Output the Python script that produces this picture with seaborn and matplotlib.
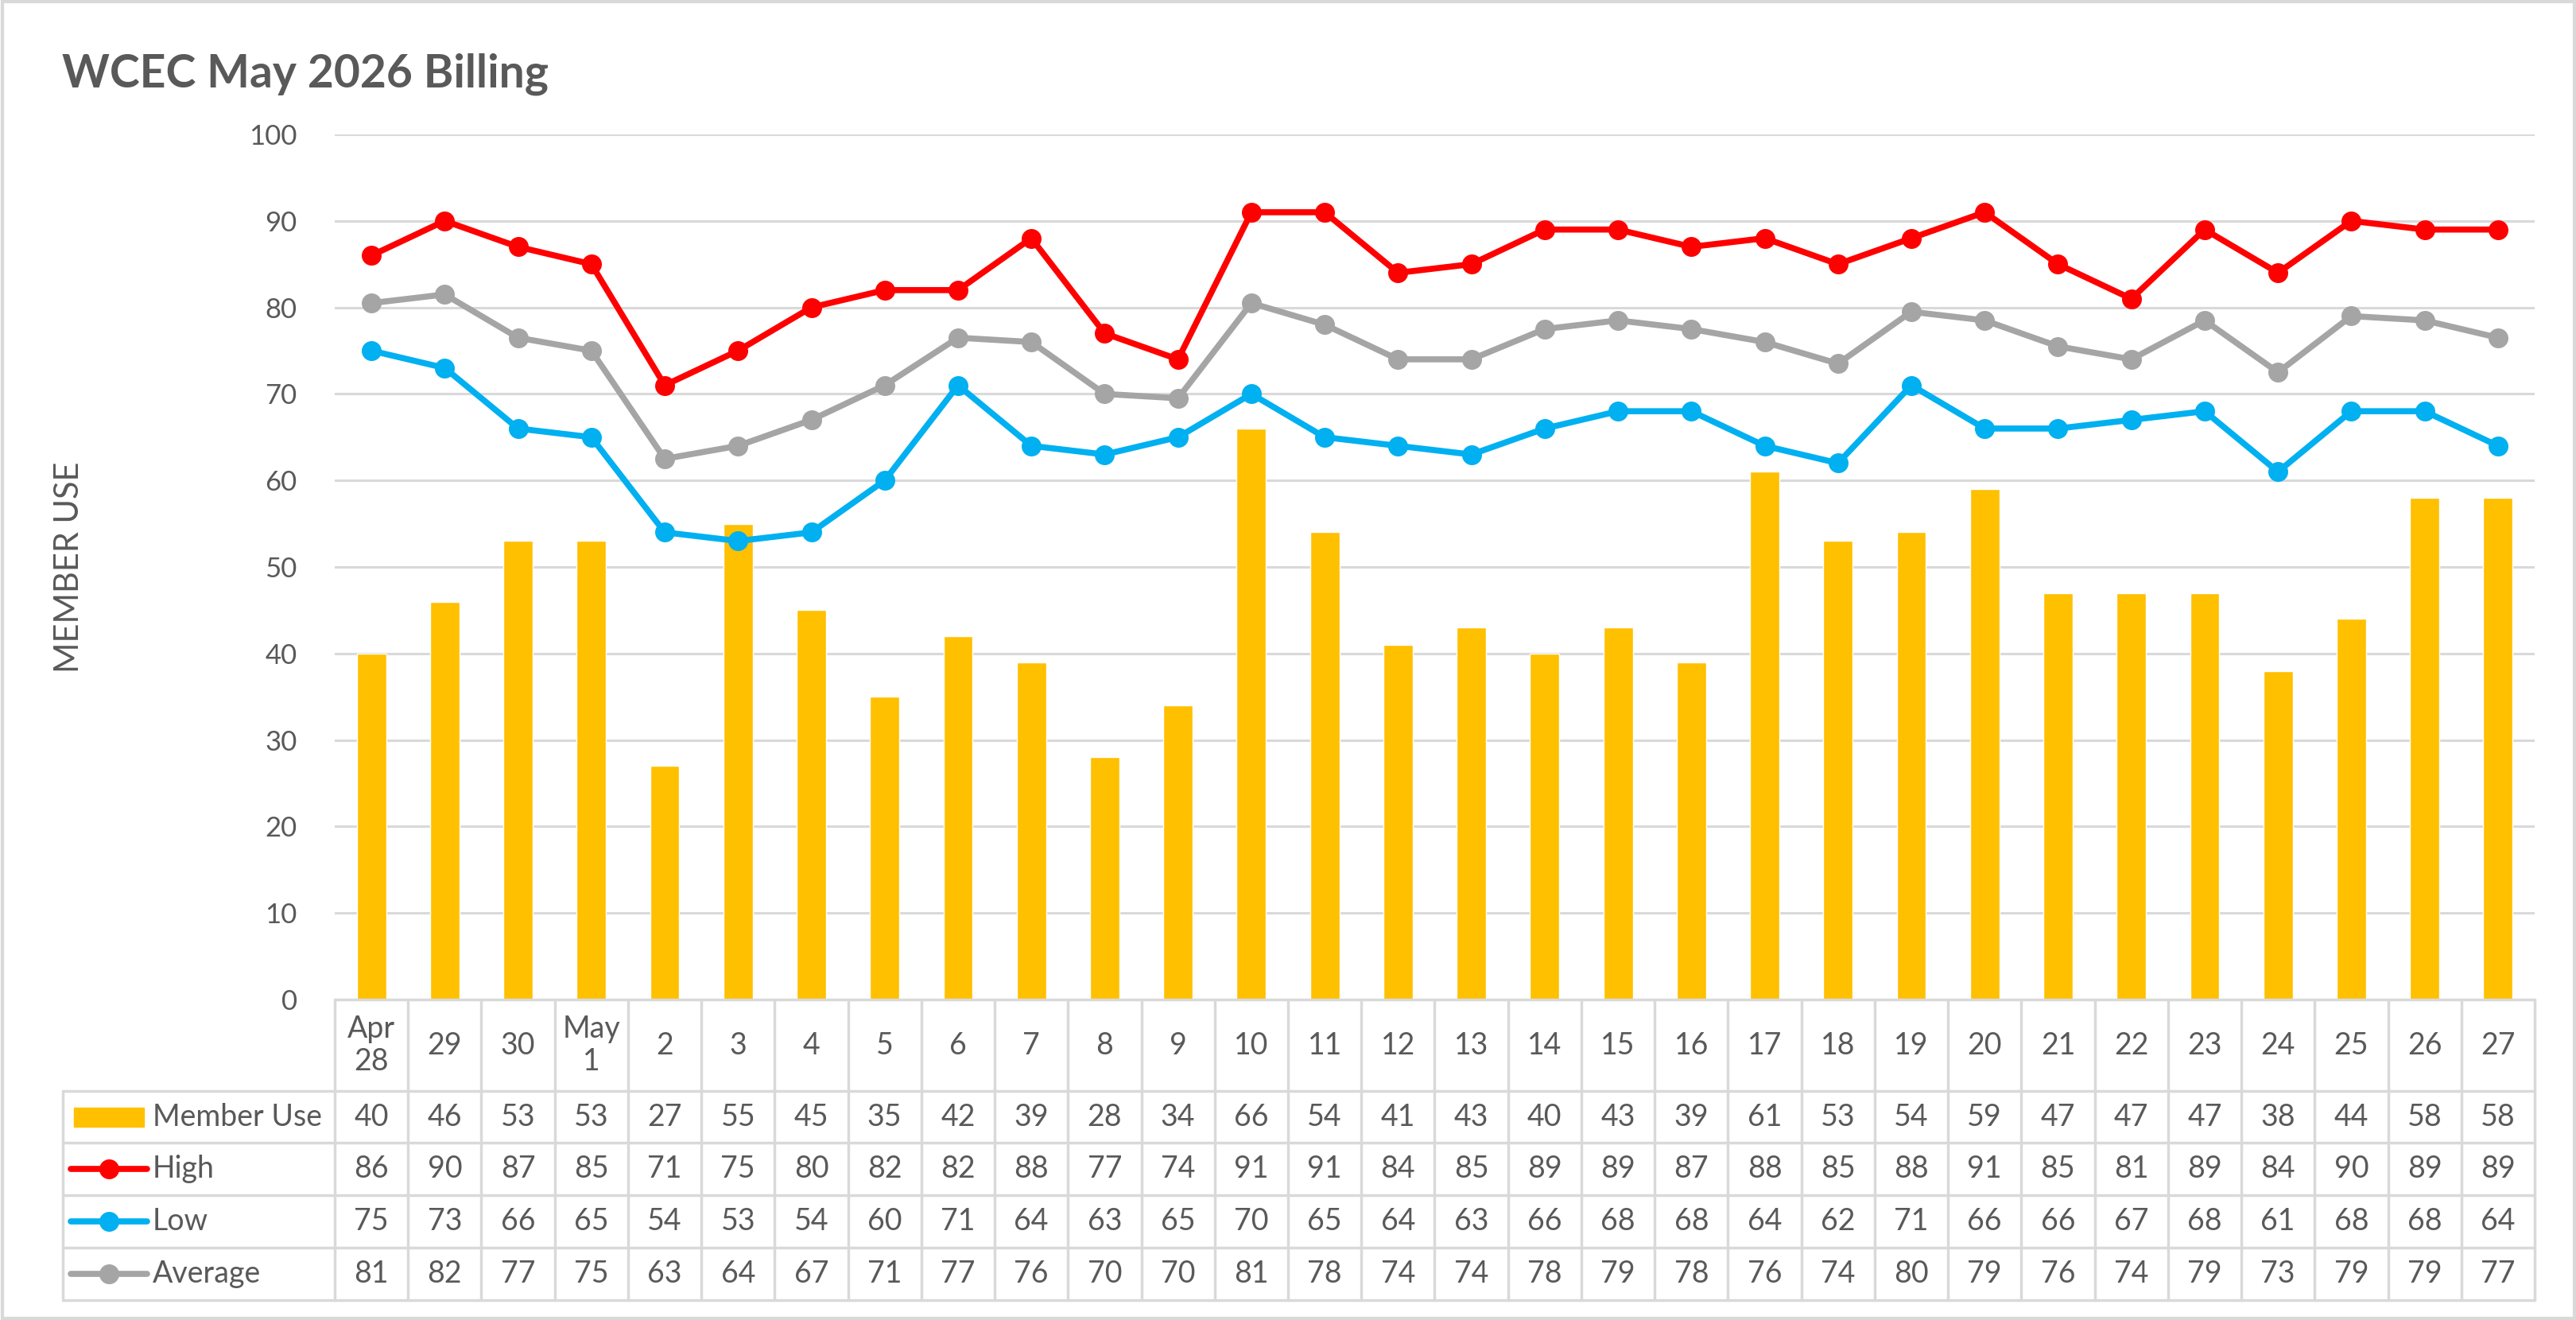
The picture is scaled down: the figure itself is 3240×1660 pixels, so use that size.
import matplotlib
matplotlib.use("Agg")
import matplotlib.pyplot as plt
from matplotlib.lines import Line2D
from matplotlib.patches import Rectangle
import seaborn as sns
import numpy as np
import pandas as pd

# data
days = ["Apr\n28", "29", "30", "May\n1", "2", "3", "4", "5", "6", "7", "8", "9", "10",
        "11", "12", "13", "14", "15", "16", "17", "18", "19", "20", "21", "22", "23",
        "24", "25", "26", "27"]
member_use = [40, 46, 53, 53, 27, 55, 45, 35, 42, 39, 28, 34, 66, 54, 41, 43, 40, 43,
              39, 61, 53, 54, 59, 47, 47, 47, 38, 44, 58, 58]
high = [86, 90, 87, 85, 71, 75, 80, 82, 82, 88, 77, 74, 91, 91, 84, 85, 89, 89, 87, 88,
        85, 88, 91, 85, 81, 89, 84, 90, 89, 89]
low = [75, 73, 66, 65, 54, 53, 54, 60, 71, 64, 63, 65, 70, 65, 64, 63, 66, 68, 68, 64,
       62, 71, 66, 66, 67, 68, 61, 68, 68, 64]
average = [80.5, 81.5, 76.5, 75, 62.5, 64, 67, 71, 76.5, 76, 70, 69.5, 80.5, 78, 74, 74,
           77.5, 78.5, 77.5, 76, 73.5, 79.5, 78.5, 75.5, 74, 78.5, 72.5, 79, 78.5, 76.5]
average_shown = [81, 82, 77, 75, 63, 64, 67, 71, 77, 76, 70, 70, 81, 78, 74, 74, 78, 79,
                 78, 76, 74, 80, 79, 76, 74, 79, 73, 79, 79, 77]

df = pd.DataFrame({"day": days, "member": member_use, "high": high,
                   "low": low, "avg": average, "pos": np.arange(len(days))})

sns.set_theme(style="white")
plt.rcParams["font.family"] = ["Lato", "DejaVu Sans"]

TXT = "#595959"
GRID = "#D9D9D9"
W, H = 3241, 1660
fig = plt.figure(figsize=(W / 100, H / 100), dpi=100)

def fx(px):
    return px / W

def fy(py):
    return 1 - py / H

# plot area in pixels
L, R, T, B = 421, 3188, 169, 1257
ax = fig.add_axes([fx(L), fy(B), fx(R) - fx(L), fy(T) - fy(B)])

sns.barplot(data=df, x="day", y="member", color="#FFC000", saturation=1,
            width=0.4, ax=ax, zorder=2)
series = [("high", "#FF0000", "High"), ("low", "#00B0F0", "Low"),
          ("avg", "#A5A5A5", "Average")]
for col, c, _ in series:
    sns.lineplot(data=df, x="pos", y=col, color=c, lw=5.5, marker="o", markersize=18,
                 markeredgewidth=0, ax=ax, zorder=3)

ax.set_xlim(-0.5, len(days) - 0.5)
ax.set_ylim(0, 100)
ax.set_yticks(range(0, 101, 10))
ax.yaxis.grid(True, color=GRID, lw=2.2)
ax.set_axisbelow(True)
ax.tick_params(axis="y", labelsize=25, labelcolor=TXT, length=0, pad=34)
ax.set_xticks([])
ax.set_xlabel("")
ax.set_ylabel("")
for s in ax.spines.values():
    s.set_visible(False)

# title and axis label
fig.text(fx(78), fy(93), "WCEC May 2026 Billing", fontsize=41, fontweight="bold",
         color=TXT, va="center", ha="left")
fig.text(fx(87), fy(713), "MEMBER USE", fontsize=30, color=TXT, rotation=90,
         va="center", ha="center")

# data table below the plot
rows_y = [1257, 1372, 1437, 1503, 1569, 1635]
cw = (R - L) / len(days)
tleft = 79
lk = dict(color=GRID, lw=2.5, transform=fig.transFigure)
fig.add_artist(Line2D([fx(L), fx(R)], [fy(rows_y[0])] * 2, **lk))
for y in rows_y[1:]:
    fig.add_artist(Line2D([fx(tleft), fx(R)], [fy(y)] * 2, **lk))
for k in range(len(days) + 1):
    xv = L + k * cw
    fig.add_artist(Line2D([fx(xv)] * 2, [fy(rows_y[0]), fy(rows_y[-1])], **lk))
fig.add_artist(Line2D([fx(tleft)] * 2, [fy(rows_y[1]), fy(rows_y[-1])], **lk))

row_vals = [member_use, high, low, average_shown]
row_names = ["Member Use", "High", "Low", "Average"]
row_cols = ["#FFC000", "#FF0000", "#00B0F0", "#A5A5A5"]
for i, d in enumerate(days):
    xc = fx(L + (i + 0.5) * cw)
    fig.text(xc, fy((rows_y[0] + rows_y[1]) / 2), d, fontsize=27, color=TXT,
             ha="center", va="center", linespacing=1.15)
    for r, vals in enumerate(row_vals):
        yc = fy((rows_y[r + 1] + rows_y[r + 2]) / 2)
        fig.text(xc, yc, str(vals[i]), fontsize=27, color=TXT, ha="center", va="center")

for r, (name, c) in enumerate(zip(row_names, row_cols)):
    yc = (rows_y[r + 1] + rows_y[r + 2]) / 2
    if r == 0:
        fig.add_artist(Rectangle((fx(93), fy(yc + 12)), fx(181) - fx(93),
                                 fy(yc - 12) - fy(yc + 12), color=c,
                                 transform=fig.transFigure))
    else:
        fig.add_artist(Line2D([fx(89), fx(185)], [fy(yc)] * 2, color=c, lw=5.5,
                              transform=fig.transFigure))
        fig.add_artist(Line2D([fx(137)], [fy(yc)], color=c, marker="o", markersize=18,
                              markeredgewidth=0, transform=fig.transFigure))
    fig.text(fx(192), fy(yc), name, fontsize=27, color=TXT, ha="left", va="center")

# outer chart border
fig.add_artist(Rectangle((0.001, 0.001), 0.998, 0.998, fill=False, ec=GRID, lw=3,
                         transform=fig.transFigure))

fig.savefig("out.png", dpi=100, facecolor="white")
